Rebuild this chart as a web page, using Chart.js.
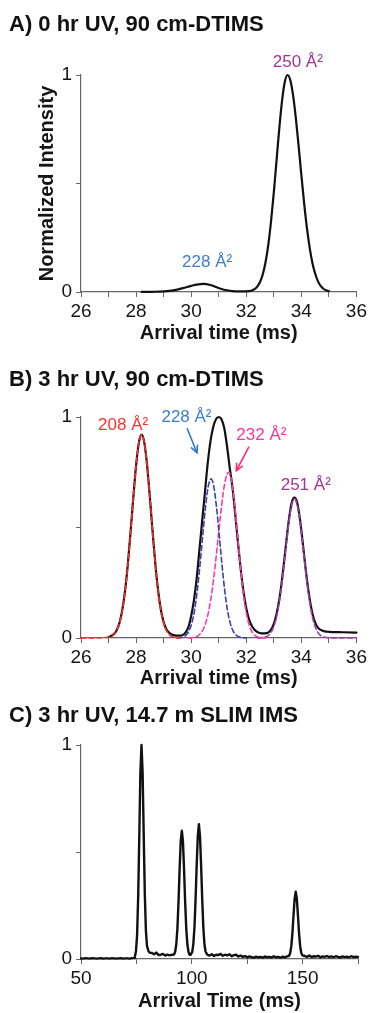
<!DOCTYPE html>
<html><head><meta charset="utf-8">
<script src="https://cdn.jsdelivr.net/npm/chart.js@4.4.0/dist/chart.umd.min.js"></script>
<style>
html,body{margin:0;padding:0;background:#fff;width:370px;height:1013px;overflow:hidden;font-family:"Liberation Sans",Arial,sans-serif;}
canvas{position:absolute;left:0;}
.ttl{position:absolute;left:9px;font-weight:bold;font-size:22px;line-height:22px;color:#111;white-space:nowrap;}
</style></head><body>
<canvas id="cA" width="370" height="345" style="top:0px;width:370px;height:345px"></canvas>
<canvas id="cB" width="370" height="345" style="top:345px;width:370px;height:345px"></canvas>
<canvas id="cC" width="370" height="323" style="top:690px;width:370px;height:323px"></canvas>
<div class="ttl" style="top:13px">A) 0 hr UV, 90 cm-DTIMS</div>
<div class="ttl" style="top:368px">B) 3 hr UV, 90 cm-DTIMS</div>
<div class="ttl" style="top:704px">C) 3 hr UV, 14.7 m SLIM IMS</div>
<script>
// ---------- DATA ----------
const xTickLabelsAB = [26, 28, 30, 32, 34, 36];
const xTickLabelsC = [50, 100, 150];
const yTickLabels = [0, 1];

// Panel A: 0 hr UV, 90 cm-DTIMS
const timeA = [28.2, 28.6, 29.0, 29.4, 29.7, 30.0, 30.2, 30.45, 30.7, 30.9, 31.1, 31.3, 31.5, 31.8, 32.1, 32.2, 32.3, 32.4, 32.5, 32.6, 32.7, 32.8, 32.9, 33.0, 33.1, 33.2, 33.3, 33.4, 33.5, 33.6, 33.7, 33.8, 33.9, 34.0, 34.1, 34.2, 34.3, 34.4, 34.5, 34.6, 34.7, 34.8, 34.9, 35.0];
const intensityA = [0.0005, 0.001, 0.003, 0.009, 0.018, 0.028, 0.034, 0.037, 0.032, 0.023, 0.014, 0.008, 0.004, 0.003, 0.004, 0.007, 0.013, 0.025, 0.046, 0.082, 0.137, 0.217, 0.326, 0.458, 0.607, 0.755, 0.882, 0.969, 1.0, 0.976, 0.906, 0.801, 0.674, 0.539, 0.411, 0.298, 0.206, 0.135, 0.085, 0.050, 0.028, 0.015, 0.008, 0.004];

// Panel B: 3 hr UV, 90 cm-DTIMS (measured total)
const timeB = [27.0, 27.2, 27.3, 27.4, 27.5, 27.6, 27.7, 27.8, 27.9, 28.0, 28.1, 28.2, 28.3, 28.4, 28.5, 28.6, 28.7, 28.8, 28.9, 29.0, 29.1, 29.2, 29.3, 29.4, 29.5, 29.6, 29.7, 29.8, 29.9, 30.0, 30.1, 30.2, 30.3, 30.4, 30.5, 30.6, 30.7, 30.8, 30.9, 31.0, 31.1, 31.2, 31.3, 31.4, 31.5, 31.6, 31.7, 31.8, 31.9, 32.0, 32.1, 32.2, 32.3, 32.4, 32.55, 32.75, 32.85, 32.95, 33.05, 33.15, 33.25, 33.35, 33.45, 33.55, 33.65, 33.75, 33.85, 33.95, 34.05, 34.15, 34.25, 34.35, 34.45, 34.55, 34.65, 34.75, 34.85, 35.0, 35.5, 36.0];
const intensityB = [0.004, 0.018, 0.036, 0.07, 0.127, 0.214, 0.333, 0.48, 0.637, 0.781, 0.883, 0.92, 0.883, 0.781, 0.637, 0.48, 0.333, 0.214, 0.128, 0.072, 0.04, 0.024, 0.016, 0.012, 0.011, 0.011, 0.014, 0.025, 0.05, 0.10, 0.17, 0.27, 0.40, 0.53, 0.66, 0.79, 0.89, 0.955, 0.99, 1.0, 0.99, 0.95, 0.87, 0.77, 0.68, 0.56, 0.43, 0.31, 0.21, 0.135, 0.085, 0.055, 0.037, 0.027, 0.021, 0.022, 0.03, 0.049, 0.083, 0.139, 0.217, 0.319, 0.432, 0.537, 0.612, 0.635, 0.612, 0.537, 0.432, 0.319, 0.22, 0.142, 0.088, 0.057, 0.041, 0.034, 0.03, 0.028, 0.026, 0.024];

// Panel B fitted components (dashed)
const time208 = [26.0, 27.0, 27.1, 27.2, 27.3, 27.4, 27.5, 27.6, 27.7, 27.8, 27.9, 28.0, 28.1, 28.2, 28.3, 28.4, 28.5, 28.6, 28.7, 28.8, 28.9, 29.0, 29.1, 29.2, 29.3, 29.4, 29.6];
const fit208 = [0, 0.003, 0.007, 0.016, 0.034, 0.068, 0.125, 0.212, 0.331, 0.479, 0.637, 0.781, 0.883, 0.92, 0.883, 0.781, 0.637, 0.479, 0.331, 0.212, 0.125, 0.068, 0.034, 0.016, 0.007, 0.003, 0];
const time228 = [29.5, 29.62, 29.72, 29.82, 29.92, 30.02, 30.12, 30.22, 30.32, 30.42, 30.52, 30.62, 30.72, 30.82, 30.92, 31.02, 31.12, 31.22, 31.32, 31.42, 31.52, 31.62, 31.72, 31.82, 32.0];
const fit228 = [0, 0.002, 0.0055, 0.014, 0.032, 0.066, 0.124, 0.213, 0.330, 0.464, 0.592, 0.686, 0.72, 0.686, 0.592, 0.464, 0.330, 0.213, 0.124, 0.066, 0.032, 0.014, 0.0055, 0.002, 0];
const time232 = [29.9, 30.06, 30.16, 30.26, 30.36, 30.46, 30.56, 30.66, 30.76, 30.86, 30.96, 31.06, 31.16, 31.26, 31.36, 31.46, 31.56, 31.66, 31.76, 31.86, 31.96, 32.06, 32.16, 32.26, 32.36, 32.46, 32.7];
const fit232 = [0, 0.002, 0.005, 0.011, 0.024, 0.045, 0.082, 0.137, 0.216, 0.315, 0.431, 0.549, 0.653, 0.724, 0.75, 0.716, 0.624, 0.496, 0.360, 0.238, 0.144, 0.079, 0.040, 0.018, 0.008, 0.003, 0];
const time251 = [32.4, 32.65, 32.75, 32.85, 32.95, 33.05, 33.15, 33.25, 33.35, 33.45, 33.55, 33.65, 33.75, 33.85, 33.95, 34.05, 34.15, 34.25, 34.35, 34.45, 34.55, 34.65, 34.75, 34.85, 35.1, 36.0];
const fit251 = [0, 0.003, 0.007, 0.017, 0.037, 0.071, 0.127, 0.207, 0.309, 0.422, 0.527, 0.602, 0.63, 0.602, 0.527, 0.422, 0.309, 0.207, 0.127, 0.071, 0.037, 0.017, 0.007, 0.003, 0, 0];

// Panel C: 3 hr UV, 14.7 m SLIM IMS
const timeC = [50, 51, 52, 53, 54, 55, 56, 57, 58, 59, 60, 61, 62, 63, 64, 65, 66, 67, 68, 69, 70, 71, 72, 73, 74,
  74.3, 74.8, 75.3, 75.8, 76.3, 76.8, 77.3, 77.8, 78.3, 78.8, 79.3, 79.8,
  80.5, 81, 82, 83, 84, 85, 86, 87, 88, 89, 90, 91, 92,
  92.5, 93, 93.5, 94, 94.5, 95, 95.5, 96, 96.5, 97, 97.5, 98, 98.5, 99, 99.5,
  100.2, 100.7, 101.2, 101.7, 102.2, 102.7, 103.2, 103.7, 104.2, 104.7, 105.2, 105.7, 106.2,
  107, 108, 109, 110, 111, 112, 113, 114, 115, 116, 117, 118, 119, 120, 121, 122, 123, 124, 125, 126, 127, 128, 129, 130, 131, 132, 133, 134, 135, 136, 137, 138, 139, 140, 141, 142, 143,
  143.9, 144.4, 144.9, 145.4, 145.9, 146.4, 146.9, 147.4, 147.9, 148.4, 148.9, 149.4, 149.9,
  151, 152, 153, 154, 155, 156, 157, 158, 159, 160, 161, 162, 163, 164, 165, 166, 167, 168, 169, 170, 171, 172, 173, 174, 175];
const intensityC = [0.003, 0.002, 0.004, 0.003, 0.002, 0.004, 0.003, 0.002, 0.003, 0.004, 0.002, 0.003, 0.003, 0.002, 0.004, 0.003, 0.002, 0.003, 0.004, 0.002, 0.003, 0.003, 0.002, 0.004, 0.004,
  0.01, 0.035, 0.11, 0.29, 0.575, 0.871, 1.0, 0.871, 0.58, 0.30, 0.13, 0.06,
  0.035, 0.03, 0.028, 0.022, 0.03, 0.018, 0.02, 0.024, 0.016, 0.02, 0.017, 0.02, 0.021,
  0.034, 0.069, 0.142, 0.266, 0.42, 0.55, 0.60, 0.55, 0.42, 0.266, 0.142, 0.069, 0.034, 0.02, 0.02,
  0.033, 0.071, 0.149, 0.279, 0.437, 0.573, 0.63, 0.573, 0.437, 0.279, 0.149, 0.071, 0.035,
  0.02, 0.016, 0.022, 0.014, 0.02, 0.018, 0.024, 0.015, 0.02, 0.017, 0.022, 0.013, 0.018, 0.02, 0.012, 0.016, 0.01, 0.014, 0.008, 0.012, 0.009, 0.006, 0.011, 0.008, 0.01, 0.006, 0.012, 0.008, 0.01, 0.007, 0.013, 0.008, 0.01, 0.006, 0.011, 0.008, 0.012,
  0.015, 0.028, 0.06, 0.12, 0.204, 0.282, 0.315, 0.282, 0.204, 0.12, 0.06, 0.028, 0.017,
  0.014, 0.01, 0.016, 0.009, 0.013, 0.011, 0.015, 0.008, 0.012, 0.01, 0.014, 0.009, 0.012, 0.008, 0.013, 0.01, 0.007, 0.012, 0.009, 0.011, 0.008, 0.013, 0.009, 0.011, 0.01];

// ---------- RENDER ----------
const FONT = '"Liberation Sans", Arial, sans-serif';
const AXIS = '#666';
const TXT = '#151515';

function pts(xs, ys) { return xs.map((x, i) => ({ x: x, y: ys[i] })); }

const annotPlugin = {
  id: 'annot',
  afterDatasetsDraw(chart, args, opts) {
    const ctx = chart.ctx, xs = chart.scales.x, ys = chart.scales.y;
    ctx.save();
    (opts.arrows || []).forEach(a => {
      const x1 = xs.getPixelForValue(a.from[0]), y1 = ys.getPixelForValue(a.from[1]);
      const x2 = xs.getPixelForValue(a.to[0]), y2 = ys.getPixelForValue(a.to[1]);
      ctx.strokeStyle = a.color; ctx.lineWidth = 1.6; ctx.setLineDash([]);
      ctx.beginPath(); ctx.moveTo(x1, y1); ctx.lineTo(x2, y2); ctx.stroke();
      const ang = Math.atan2(y2 - y1, x2 - x1), L = 8;
      ctx.beginPath();
      ctx.moveTo(x2 - L * Math.cos(ang - 0.45), y2 - L * Math.sin(ang - 0.45));
      ctx.lineTo(x2, y2);
      ctx.lineTo(x2 - L * Math.cos(ang + 0.45), y2 - L * Math.sin(ang + 0.45));
      ctx.stroke();
    });
    (opts.labels || []).forEach(l => {
      ctx.font = '17px ' + FONT;
      ctx.fillStyle = l.color; ctx.textAlign = 'center'; ctx.textBaseline = 'middle';
      ctx.fillText(l.text, xs.getPixelForValue(l.x), ys.getPixelForValue(l.y));
    });
    ctx.restore();
  }
};

function xScale(min, max, step, shown, title, h) {
  return {
    type: 'linear', min: min, max: max,
    ticks: { stepSize: step, autoSkip: false, maxRotation: 0, padding: 3, color: TXT,
      font: { family: FONT, size: 19 },
      callback: v => shown.includes(v) ? String(v) : '' },
    grid: { display: true, drawOnChartArea: false, drawTicks: true, tickLength: 5, color: AXIS, tickColor: AXIS, lineWidth: 1 },
    border: { display: true, color: AXIS, width: 1.2 },
    title: { display: true, text: title, color: TXT, font: { family: FONT, size: 20, weight: 'bold' }, padding: { top: 0, bottom: 0 } },
    afterFit: s => { s.height = h; }
  };
}
function yScale(title) {
  return {
    type: 'linear', min: 0, max: 1,
    ticks: { stepSize: 0.5, autoSkip: false, padding: 4, color: TXT, font: { family: FONT, size: 19 },
      callback: v => yTickLabels.includes(v) ? String(v) : '' },
    grid: { display: true, drawOnChartArea: false, drawTicks: true, tickLength: 5, color: AXIS, tickColor: AXIS, lineWidth: 1 },
    border: { display: true, color: AXIS, width: 1.2 },
    title: { display: !!title, text: title || '', color: TXT, font: { family: FONT, size: 20, weight: 'bold' }, padding: { top: 35, bottom: 0 } },
    afterFit: s => { s.width = 81; }
  };
}
function baseOptions(padTop, xs, ys, annot) {
  return {
    responsive: false, animation: false, devicePixelRatio: 1,
    layout: { padding: { top: padTop, left: 0, right: 12, bottom: 0 } },
    plugins: { legend: { display: false }, tooltip: { enabled: false }, title: { display: false }, annot: annot },
    elements: { point: { radius: 0 } },
    scales: { x: xs, y: ys }
  };
}
function line(data, color, width, dash, smooth) {
  return { data: data, showLine: true, borderColor: color, borderWidth: width, borderDash: dash || [],
    borderJoinStyle: 'round', borderCapStyle: 'round',
    pointRadius: 0, fill: false, clip: false, tension: 0,
    cubicInterpolationMode: smooth ? 'monotone' : 'default' };
}

new Chart(document.getElementById('cA'), {
  type: 'scatter',
  data: { datasets: [ line(pts(timeA, intensityA), '#111', 2.2, null, true) ] },
  options: baseOptions(75, xScale(26, 36, 1, xTickLabelsAB, 'Arrival time (ms)', 53), yScale('Normalized Intensity'),
    { labels: [ { text: '250 Å²', x: 33.87, y: 1.06, color: '#a2339c' },
                { text: '228 Å²', x: 30.58, y: 0.135, color: '#3f7ccc' } ] }),
  plugins: [annotPlugin]
});

new Chart(document.getElementById('cB'), {
  type: 'scatter',
  data: { datasets: [
    line(pts(time208, fit208), '#ff2a2a', 1.6, [5, 3], true),
    line(pts(time228, fit228), '#3b3fb0', 1.6, [5, 3], true),
    line(pts(time232, fit232), '#ff3aa6', 1.6, [5, 3], true),
    line(pts(time251, fit251), '#a040a8', 1.6, [5, 3], true),
    line(pts(timeB, intensityB), '#111', 2.2, null, true)
  ] },
  options: baseOptions(72, xScale(26, 36, 1, xTickLabelsAB, 'Arrival time (ms)', 52), yScale(null),
    { labels: [ { text: '208 Å²', x: 27.53, y: 0.964, color: '#ff3030' },
                { text: '228 Å²', x: 29.83, y: 1.0, color: '#3f7ccc' },
                { text: '232 Å²', x: 32.55, y: 0.919, color: '#ff3399' },
                { text: '251 Å²', x: 34.16, y: 0.692, color: '#a2339c' } ],
      arrows: [ { from: [29.85, 0.949], to: [30.21, 0.838], color: '#2a78c8' },
                { from: [32.1, 0.866], to: [31.64, 0.757], color: '#ff2a7a' } ] }),
  plugins: [annotPlugin]
});

new Chart(document.getElementById('cC'), {
  type: 'scatter',
  data: { datasets: [ line(pts(timeC, intensityC), '#111', 2.4, null, false) ] },
  options: baseOptions(55, xScale(50, 175, 25, xTickLabelsC, 'Arrival Time (ms)', 54), yScale(null), { labels: [] }),
  plugins: [annotPlugin]
});
</script>
</body></html>
